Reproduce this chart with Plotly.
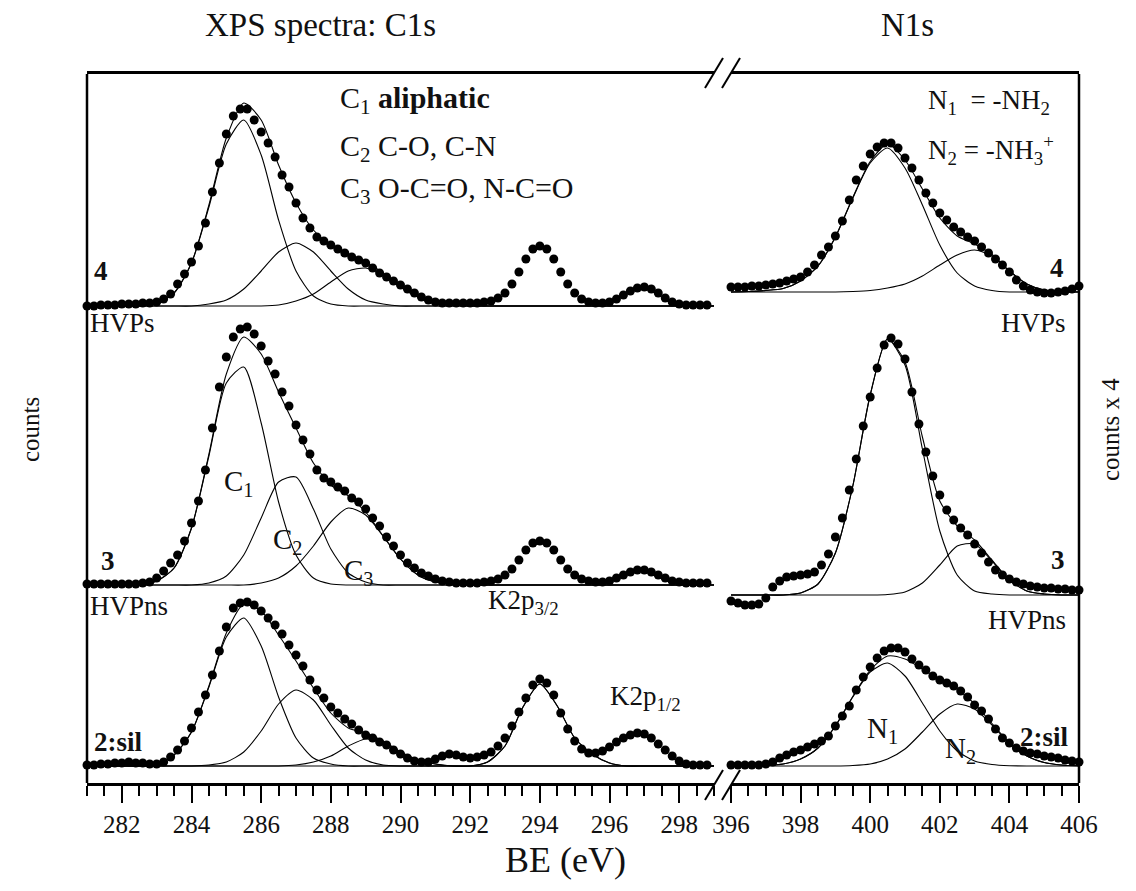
import plotly.graph_objects as go

# ---------------- data (arbitrary count units) ----------------
be_c1s = [round(281.0 + 0.2 * i, 1) for i in range(90)]        # 281.0 ... 298.8 eV
be_n1s = [round(396.0 + 0.2 * i, 1) for i in range(51)]        # 396.0 ... 406.0 eV
be_c1s_fit = [281.0 + 0.5 * i for i in range(37)]              # 281.0 ... 299.0 eV
be_n1s_fit = [396.0 + 0.5 * i for i in range(21)]              # 396.0 ... 406.0 eV

c1s_hvps = [0, 0, 1, 1, 1, 2, 2, 2, 3, 3,
            4, 7, 12, 22, 32, 44, 60, 83, 114, 143,
            172, 190, 197, 197, 186, 174, 163, 149, 131, 119,
            103, 88, 78, 69, 65, 61, 57, 53, 49, 46,
            43, 38, 33, 29, 25, 21, 17, 13, 9, 6,
            4, 3, 3, 3, 3, 3, 3, 4, 5, 8,
            13, 22, 34, 47, 57, 60, 57, 47, 34, 22,
            13, 7, 4, 3, 3, 4, 7, 11, 15, 18,
            19, 17, 13, 8, 4, 2, 1, 1, 1, 1]
c1s_hvpns = [1, 1, 1, 1, 1, 1, 1, 1, 2, 3,
             7, 14, 22, 30, 44, 62, 84, 115, 157, 198,
             228, 248, 256, 258, 251, 239, 224, 211, 193, 179,
             160, 145, 131, 115, 107, 103, 98, 94, 87, 83,
             76, 67, 59, 48, 39, 30, 22, 17, 12, 9,
             6, 4, 3, 2, 2, 2, 2, 3, 4, 6,
             10, 16, 25, 35, 42, 44, 42, 35, 25, 16,
             10, 6, 4, 3, 3, 4, 7, 10, 13, 15,
             15, 13, 10, 7, 4, 3, 2, 2, 2, 2]
c1s_sil = [1, 1, 2, 2, 3, 3, 4, 3, 3, 2,
           2, 4, 9, 16, 25, 38, 54, 71, 91, 115,
           139, 158, 163, 164, 161, 155, 148, 141, 132, 121,
           111, 100, 86, 76, 68, 59, 53, 47, 42, 36,
           31, 28, 24, 21, 16, 12, 8, 5, 4, 4,
           7, 10, 12, 11, 9, 8, 9, 11, 14, 20,
           28, 40, 54, 68, 81, 87, 83, 71, 53, 37,
           25, 17, 13, 13, 15, 19, 24, 28, 31, 33,
           32, 28, 22, 16, 10, 5, 2, 1, 1, 1]

n1s_hvps = [5, 5, 5, 6, 6, 7, 8, 9, 11, 13,
            15, 20, 27, 37, 45, 56, 71, 92, 112, 126,
            138, 145, 149, 149, 144, 134, 124, 112, 99, 89,
            79, 72, 65, 60, 55, 51, 45, 39, 33, 27,
            20, 12, 6, 2, 0, -1, -1, 0, 1, 3,
            6]
n1s_hvpns = [-6, -8, -10, -10, -9, -3, 8, 14, 18, 19,
             20, 21, 23, 30, 41, 58, 77, 105, 136, 169,
             198, 227, 250, 257, 251, 236, 203, 171, 143, 119,
             100, 85, 75, 67, 60, 51, 42, 33, 25, 20,
             16, 13, 11, 9, 8, 7, 7, 6, 6, 5,
             5]
n1s_sil = [1, 1, 1, 1, 1, 2, 4, 8, 11, 14,
           16, 19, 22, 25, 30, 40, 50, 60, 76, 89,
           99, 108, 115, 118, 118, 114, 107, 101, 96, 90,
           86, 83, 80, 75, 69, 61, 55, 47, 37, 28,
           23, 18, 15, 13, 12, 10, 9, 8, 6, 5,
           4]

# fitted components (read at 0.5 eV steps)
c1_hvps = [0, 0, 0, 0, 3, 13, 43, 99, 162, 186, 151, 86, 35, 10, 2] + [0] * 22
c2_hvps = [0] * 7 + [2, 6, 17, 35, 54, 63, 54, 35, 17, 6, 2] + [0] * 19
c3_hvps = [0] * 11 + [1, 5, 12, 24, 35, 38, 31, 19, 9, 3, 1] + [0] * 15

c1_hvpns = [0, 0, 0, 0, 4, 17, 57, 129, 202, 218, 162, 83, 30, 7, 1] + [0] * 22
c2_hvpns = [0] * 7 + [2, 9, 30, 67, 103, 108, 76, 36, 12, 3] + [0] * 20
c3_hvpns = [0] * 10 + [2, 7, 19, 39, 63, 77, 70, 49, 26, 10, 3, 1] + [0] * 15

c1_sil = [0, 0, 0, 0, 2, 11, 34, 79, 129, 148, 120, 69, 28, 8, 2] + [0] * 22
c2_sil = [0] * 7 + [1, 4, 14, 35, 62, 76, 66, 41, 18, 6, 1] + [0] * 19
c3_sil = [0] * 12 + [1, 4, 10, 20, 27, 24, 14, 6, 2] + [0] * 16
k2p_sil = [0] * 23 + [4, 20, 58, 82, 60, 28, 12, 3] + [0] * 6

n1_hvps = [0, 0.5, 1.5, 3.5, 11, 26, 55, 94, 129, 144, 124, 87, 47, 19, 6, 1.5, 0, 0, 0, 0, 0]
n2_hvps = [0] * 7 + [0.5, 1.5, 4, 8, 16, 27, 37, 42, 36, 21, 8, 2, 0.5, 0]
n1_hvpns = [0, 0, 0, 0, 2, 11, 42, 109, 200, 256, 230, 146, 64, 20, 4, 1, 0, 0, 0, 0, 0]
n2_hvpns = [0] * 9 + [0.5, 3, 12, 30, 49, 51, 34, 15, 4, 1, 0, 0]
n1_sil = [0, 0, 0.5, 2, 7, 18, 40, 69, 94, 103, 90, 63, 35, 15, 5, 1.5, 0.3, 0, 0, 0, 0]
n2_sil = [0] * 7 + [0.5, 2, 7, 17, 34, 52, 62, 57, 41, 23, 10, 3.5, 1, 0.2]

# vertical stacking offsets of the three samples (count units)
off_c1s = {"HVPs": 477, "HVPns": 198, "sil": 17}
off_n1s = {"HVPs": 491, "HVPns": 188, "sil": 17}

# ---------------- layout geometry (page pixels) ----------------
BODY = 8                      # default page margin around the plot div
W, H = 1136 - 2 * BODY, 891 - 2 * BODY
L, R, T, B = 87, 1079, 74, 783
PW, PH = R - L, B - T
C1S_END, N1S_START = 714, 731
FONT = "Liberation Serif"
INK = "#111111"


def px(x):
    return (x - L) / PW


def py(y):
    return (B - y) / PH


fig = go.Figure()

LINE = dict(color="black", width=1.1, shape="spline", smoothing=0.7)
MARK = dict(size=9, color="black")


def add_spectrum(xaxis, be, data, be_fit, comps, off):
    env = [sum(v) for v in zip(*comps)]
    for comp in comps + [env]:
        fig.add_trace(go.Scatter(x=be_fit, y=[v + off for v in comp], mode="lines",
                                 line=LINE, xaxis=xaxis, yaxis="y",
                                 hoverinfo="skip", showlegend=False))
    fig.add_trace(go.Scatter(x=be, y=[v + off for v in data], mode="markers",
                             marker=MARK, xaxis=xaxis, yaxis="y", cliponaxis=False,
                             showlegend=False))


add_spectrum("x", be_c1s, c1s_hvps, be_c1s_fit, [c1_hvps, c2_hvps, c3_hvps], off_c1s["HVPs"])
add_spectrum("x", be_c1s, c1s_hvpns, be_c1s_fit, [c1_hvpns, c2_hvpns, c3_hvpns], off_c1s["HVPns"])
add_spectrum("x", be_c1s, c1s_sil, be_c1s_fit, [c1_sil, c2_sil, c3_sil, k2p_sil], off_c1s["sil"])
add_spectrum("x2", be_n1s, n1s_hvps, be_n1s_fit, [n1_hvps, n2_hvps], off_n1s["HVPs"])
add_spectrum("x2", be_n1s, n1s_hvpns, be_n1s_fit, [n1_hvpns, n2_hvpns], off_n1s["HVPns"])
add_spectrum("x2", be_n1s, n1s_sil, be_n1s_fit, [n1_sil, n2_sil], off_n1s["sil"])

axis_common = dict(
    showline=True, linewidth=2.5, linecolor="black", mirror=True,
    ticks="outside", ticklen=17, tickwidth=2, tickcolor="black",
    dtick=2, tick0=0,
    minor=dict(dtick=0.5, tick0=0, ticks="outside", ticklen=10, tickwidth=2, tickcolor="black"),
    tickfont=dict(family=FONT, size=25, color=INK),
    showgrid=False, zeroline=False, anchor="y",
)

fig.update_layout(
    width=W, height=H,
    margin=dict(l=L - BODY, r=W - (R - BODY), t=T - BODY, b=H - (B - BODY), pad=0),
    paper_bgcolor="white", plot_bgcolor="white",
    showlegend=False,
    xaxis=dict(domain=[0, px(C1S_END)], range=[281, 299], **axis_common),
    xaxis2=dict(domain=[px(N1S_START), 1], range=[396, 406], **axis_common),
    yaxis=dict(domain=[0, 1], range=[0, PH], visible=False, fixedrange=True),
)

# frame: left / right vertical borders and axis-break slashes
shapes = [
    dict(type="line", xref="paper", yref="paper", x0=0, x1=0, y0=0, y1=1,
         line=dict(color="black", width=2.5)),
    dict(type="line", xref="paper", yref="paper", x0=1, x1=1, y0=0, y1=1,
         line=dict(color="black", width=2.5)),
]
for (x0, y0, x1, y1) in [(705, 800, 723, 770), (722, 800, 740, 770),
                         (705, 88, 723, 58), (722, 88, 740, 58)]:
    shapes.append(dict(type="line", xref="paper", yref="paper",
                       x0=px(x0), y0=py(y0), x1=px(x1), y1=py(y1),
                       line=dict(color="black", width=2)))
fig.update_layout(shapes=shapes)

# text labels: (text, x px, y px, size, xanchor, angle)
labels = [
    ("XPS spectra: C1s", 320, 25, 33, "center", 0),
    ("N1s", 907, 25, 33, "center", 0),
    ("C<sub>1</sub> <b>aliphatic</b>", 338, 100, 30, "left", 0),
    ("C<sub>2</sub> C-O, C-N", 338, 148, 30, "left", 0),
    ("C<sub>3</sub> O-C=O, N-C=O", 338, 190, 30, "left", 0),
    ("N<sub>1</sub>  = -NH<sub>2</sub>", 926, 102, 27, "left", 0),
    ("N<sub>2</sub> = -NH<sub>3</sub><sup>+</sup>", 926, 150, 27, "left", 0),
    ("<b>4</b>", 101, 271, 27, "center", 0),
    ("HVPs", 88, 323, 27, "left", 0),
    ("<b>3</b>", 108, 561, 27, "center", 0),
    ("HVPns", 88, 606, 27, "left", 0),
    ("<b>2:sil</b>", 92, 742, 27, "left", 0),
    ("C<sub>1</sub>", 238, 483, 29, "center", 0),
    ("C<sub>2</sub>", 287, 541, 29, "center", 0),
    ("C<sub>3</sub>", 358, 572, 29, "center", 0),
    ("K2p<sub>3/2</sub>", 523, 602, 27, "center", 0),
    ("K2p<sub>1/2</sub>", 645, 698, 27, "center", 0),
    ("<b>4</b>", 1057, 268, 27, "center", 0),
    ("HVPs", 1068, 323, 27, "right", 0),
    ("<b>3</b>", 1058, 560, 27, "center", 0),
    ("HVPns", 1068, 620, 27, "right", 0),
    ("<b>2:sil</b>", 1071, 737, 27, "right", 0),
    ("N<sub>1</sub>", 882, 730, 29, "center", 0),
    ("N<sub>2</sub>", 960, 750, 29, "center", 0),
    ("BE (eV)", 565, 860, 36, "center", 0),
    ("counts", 30, 430, 25, "center", -90),
    ("counts x 4", 1110, 430, 25, "center", -90),
]
fig.update_layout(annotations=[
    dict(text=t, x=px(x), y=py(y), xref="paper", yref="paper",
         xanchor=xa, yanchor="middle", showarrow=False, textangle=a,
         font=dict(family=FONT, size=s, color=INK))
    for (t, x, y, s, xa, a) in labels
])

fig.write_html("out.html")
